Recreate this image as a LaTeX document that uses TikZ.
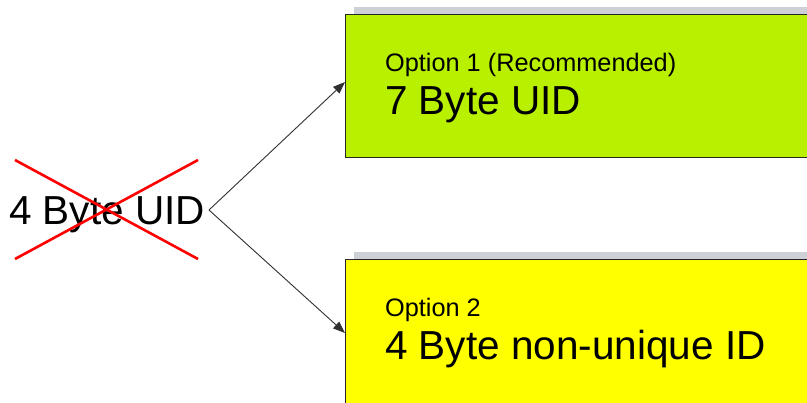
\documentclass[tikz,border=0pt]{standalone}
\usepackage{fontspec}
\setmainfont{Liberation Sans}
\usetikzlibrary{arrows.meta}
\definecolor{optgreen}{HTML}{B8F000}
\definecolor{optyellow}{HTML}{FFFF00}
\definecolor{shadowgray}{HTML}{CDD0D6}
\definecolor{arrowgray}{HTML}{303030}
\tikzset{
  optbox/.style={draw=black!85, line width=1pt},
  shadowbox/.style={fill=shadowgray, draw=none},
  smalltext/.style={anchor=base west, inner sep=0pt, font=\fontsize{25.3}{29}\selectfont},
  bigtext/.style={anchor=base west, inner sep=0pt, font=\fontsize{40.5}{47}\selectfont},
  conn/.style={draw=arrowgray, line width=0.9pt, -{Triangle[length=12pt,width=9pt]}},
  crossline/.style={draw=red, line width=2.6pt}
}
\begin{document}
\begin{tikzpicture}[x=1pt,y=-1pt]
\useasboundingbox (0,0) rectangle (807,403);
\clip (0,0) rectangle (807,403);
\fill[white] (0,0) rectangle (807,403);
% shadows
\fill[shadowbox] (354,7) rectangle (830,150);
\fill[shadowbox] (354,252) rectangle (830,420);
% boxes
\draw[optbox, fill=optgreen] (345,15) rectangle (830,158);
\draw[optbox, fill=optyellow] (345,260) rectangle (830,420);
% texts
\node[smalltext] (opt1) at (385,72) {Option 1 (Recommended)};
\node[bigtext] (uid7) at (385,115) {7 Byte UID};
\node[smalltext] (opt2) at (385,317) {Option 2};
\node[bigtext] (uid4n) at (385,360) {4 Byte non-unique ID};
\node[bigtext] (uid4) at (9,225) {4 Byte UID};
% cross
\coordinate (c1) at (15,160);
\coordinate (c2) at (198,259);
\coordinate (c3) at (15,259);
\coordinate (c4) at (198,160);
\draw[crossline] (c1) -- (c2);
\draw[crossline] (c3) -- (c4);
% connectors
\coordinate (apex) at (209,210);
\coordinate (end1) at (345,82);
\coordinate (end2) at (345,333);
\draw[conn] (apex) -- (end1);
\draw[conn] (apex) -- (end2);
\end{tikzpicture}
\end{document}
